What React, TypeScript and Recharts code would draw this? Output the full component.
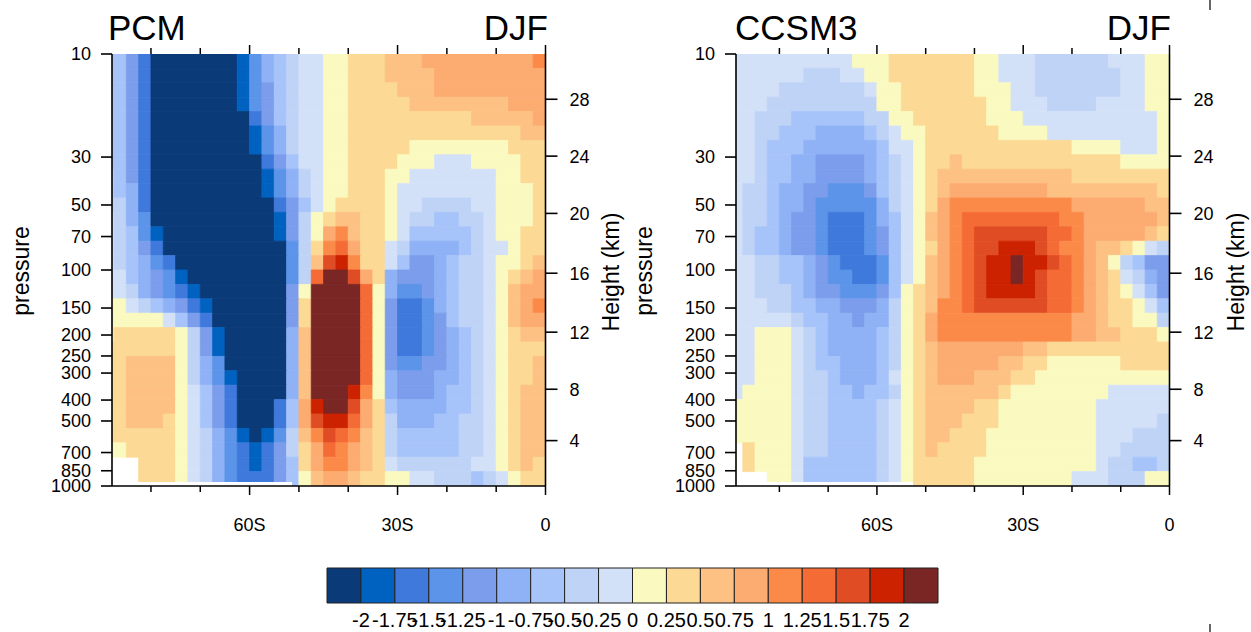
import React from 'react'
import { ComposedChart, BarChart, Bar, Scatter, XAxis, YAxis, ReferenceArea } from 'recharts'

// contour levels of the shaded field and the colour of every band between them
const LEVELS = [-2, -1.75, -1.5, -1.25, -1, -0.75, -0.5, -0.25, 0, 0.25, 0.5, 0.75, 1, 1.25, 1.5, 1.75, 2]
const BAND_COLORS = [
  '#0a3a78', '#0062c0', '#3f79dc', '#5b94e8', '#7c9deb', '#8fb1f5', '#a7c4fa', '#bfd3f7', '#d3e1f8',
  '#fafac0', '#fcd994', '#fcc183', '#fcab71', '#fb8a49', '#f46b36', '#e04c24', '#cc2200', '#7a2624',
]

// the fields on a grid of 2.5 deg x 1/15 decade of pressure,
// one character per cell: '0'..'h' = band 0..17 (value = band centre), '.' = no data
const BAND_CODE = '0123456789abcdefgh'

const PRESSURE_TICKS = [1000, 850, 700, 500, 400, 300, 250, 200, 150, 100, 70, 50, 30, 10]
const HEIGHT_KM = [4, 8, 12, 16, 20, 24, 28]
const HEIGHT_P = [616.4, 356.5, 194.0, 103.5, 54.7, 29.7, 16.2]
const LAT_TICKS = [-80, -70, -60, -50, -40, -30, -20, -10, 0]
const LAT_LABELS: Record<string, string> = { '-60': '60S', '-30': '30S', '0': '0' }

const LAT_START = -90
const LAT_STEP = 2.5
const N_ROWS = 30
const SURFACE_TOP = 958

const PCM_LAT_MIN = -87.9
const PCM_MISSING_1000 = [-87.9, -51.4]
const PCM_ROWS = [
  '66420000000135678899aaabbbcccccccccd',
  '66420000000135678899aaabbbbccccccccc',
  '66420000000134678899aaaabbbccccccccc',
  '66420000000134678899aaaaabbbbbbbbccc',
  '66420000000024678899aaaaaaaaaabbbbbc',
  '66420000000013578899aaaaaaaaaaaaaabb',
  '66420000000013578899aaaaa99999999aaa',
  '66420000000002468899aaaa9998889999aa',
  '76420000000001357899aaa99888888899aa',
  '76520000000001357899aaa988888888999a',
  '7752000000000024689aaaa988777788999a',
  '875300000000001479abbaa987766778999a',
  '876310000000001479cdbaa98666667899aa',
  '87642000000000037adecaa87555567889aa',
  '87653200000000037bfgdaa86445677899ab',
  '88654310000000037ehhfca5444567789abc',
  '88754321000000049hhhhe95334567789bcc',
  '9987654210000004ahhhhe94223567789bcd',
  '9999986420000004ahhhhe94223467789bcc',
  '9aaaaa9741000005bhhhhe94223456789abb',
  'aaaaaa9741000005bhhhhe94223456789aaa',
  'aabbbb9753000005bhhhhe94334456789aab',
  'aabbbb9753100005bhhhhe95444556789aab',
  'aabbbb9864200005bhhhgd95444566789abb',
  'aabbbb9864200026cghhfca6555566789abb',
  'aabbba9864200026cfggeca7555667789abb',
  'aaaaaa9875310137bdfedba7666667789abb',
  '99aaaa9875321247acedcba7666667789abb',
  '...aaa9875321246acddcba8777777889aba',
  '...aaa98753222469bccbaa99887776789aa',
]

const CCSM3_LAT_MIN = -88.9
const CCSM3_MISSING_1000 = [-88.9, -52.6]
const CCSM3_ROWS = [
  '8888888888999aaaaaaa9988877777788899',
  '8888887778899aaaaaaa9988877777778899',
  '88887777777899aaaaaa9998877777778899',
  '88877777777799aaaaaaa998887777888899',
  '887776666667799aaaaaa999888888888889',
  '8877666555567899aaaaaa99998888888889',
  '8876665555556889aaaaaaaaaaaa99998889',
  '8876655444456789aabaaaaaaaaaaaaa9999',
  '8876655444456789abbbbbbbbbbbaaaaaaaa',
  '8776554433346789abccccccccbbbbbbbbba',
  '8776554333335789acddddddddddccccccbb',
  '8776544322235689bcdeeeeeeeeddccccccb',
  '8766544322234689bcdeffffffeedcccccba',
  '8766544322234689acdeffgggfeddcbba987',
  '8877665432223689bcdefgghggfedcb97644',
  '8877665433223689bcdefgghgfeedcba8754',
  '887776544333469abcdefggggfeedcba9864',
  '888776655444579abddeffffffeedcbaa986',
  '888887665545579acdddddddddddccbaa997',
  '889998765555679acdddddddddddccbbaaa9',
  '889998765555679abcccccccbbaaaaaaaaaa',
  '889998766555679abcccccbbaa999999aaaa',
  '889998776555689abcccbbbaa99999999999',
  '899998776656679abbbbbba9999999988888',
  '999998776666789abbbbaa99999999888888',
  '999998776666789abbbaaa99999999888887',
  '999998776666789abbaaa999999999888777',
  '.a9998776666789abaaaa999999999887777',
  '.a9998666666789aaaaa9999999999877667',
  '...998666666789aaaaa9999999988877799',
]

const FONT = '"Liberation Sans", Arial, Helvetica, sans-serif'
const LINE = { stroke: '#000', strokeWidth: 1.6 }

// panel layout: chart height, margins and bottom axis height give the plot height
const CHART_H = 540
const MARGIN_TOP = 54
const MARGIN_BOTTOM = 14
const X_AXIS_H = 40
const PLOT_H = CHART_H - MARGIN_TOP - MARGIN_BOTTOM - X_AXIS_H

const ROW_EDGES = Array.from({ length: N_ROWS + 1 }, (_, i) => Math.pow(10, 1 + (2 * i) / N_ROWS))

function bandColor(v: number) {
  return BAND_COLORS[LEVELS.filter((l) => l <= v).length]
}

function decode(ch: string) {
  return (BAND_CODE.indexOf(ch) - 9) * 0.25 + 0.125
}

function buildAreas(rows: string[], latMin: number) {
  const out: { key: string; x1: number; x2: number; y1: number; y2: number; fill: string }[] = []
  rows.forEach((row, i) => {
    let j = 0
    while (j < row.length) {
      let k = j
      while (k + 1 < row.length && row[k + 1] === row[j]) k++
      if (row[j] !== '.') {
        out.push({
          key: `${i}-${j}`,
          x1: Math.max(latMin, LAT_START + j * LAT_STEP),
          x2: LAT_START + (k + 1) * LAT_STEP,
          y1: ROW_EDGES[i],
          y2: ROW_EDGES[i + 1],
          fill: bandColor(decode(row[j])),
        })
      }
      j = k + 1
    }
  })
  return out
}

// latitude tick: outward mark under the bottom edge and over the top edge, label for 60S / 30S / 0
function LatTick(props: any) {
  const { x, y, payload } = props
  const label = LAT_LABELS[String(payload.value)]
  const len = label ? 9 : 6
  const top = y - PLOT_H
  return (
    <g>
      <line x1={x} x2={x} y1={y} y2={y + len} stroke="#000" strokeWidth={1.5} />
      <line x1={x} x2={x} y1={top} y2={top - len} stroke="#000" strokeWidth={1.5} />
      {label && (
        <text x={x} y={y + 45} textAnchor="middle" fontSize={18} fontFamily={FONT} fill="#000">
          {label}
        </text>
      )}
    </g>
  )
}

const NoMark = () => <g />

function Panel({ rows, latMin, missing, left, width, marginRight }: any) {
  const areas = buildAreas(rows, latMin)
  const frame = [
    { lat: latMin, p: 1000 },
    { lat: 0, p: 10 },
  ]
  const tickStyle = { fontSize: 18, fontFamily: FONT, fill: '#000' }
  return (
    <div style={{ position: 'absolute', left, top: 0 }}>
      <ComposedChart
        width={width}
        height={CHART_H}
        data={frame}
        margin={{ top: MARGIN_TOP, right: marginRight, bottom: MARGIN_BOTTOM, left: 52 }}
      >
        <Scatter xAxisId="x" yAxisId="p" data={frame} dataKey="p" shape={NoMark} isAnimationActive={false} />
        {areas.map((a) => (
          <ReferenceArea
            key={a.key}
            xAxisId="x"
            yAxisId="p"
            x1={a.x1}
            x2={a.x2}
            y1={a.y1}
            y2={a.y2}
            fill={a.fill}
            fillOpacity={1}
            stroke={a.fill}
            strokeWidth={0.8}
            ifOverflow="hidden"
          />
        ))}
        <ReferenceArea
          xAxisId="x"
          yAxisId="p"
          x1={missing[0]}
          x2={missing[1]}
          y1={SURFACE_TOP}
          y2={1000}
          fill="#fff"
          fillOpacity={1}
          stroke="none"
          ifOverflow="hidden"
        />
        {/* top frame line along the 10 hPa edge */}
        <ReferenceArea
          xAxisId="x"
          yAxisId="p"
          x1={latMin}
          x2={0}
          y1={10}
          y2={10}
          fill="none"
          stroke="#000"
          strokeWidth={1.6}
          ifOverflow="visible"
        />
        <XAxis
          xAxisId="x"
          dataKey="lat"
          type="number"
          domain={[latMin, 0]}
          allowDataOverflow
          ticks={LAT_TICKS}
          interval={0}
          height={X_AXIS_H}
          tickSize={0}
          tickMargin={0}
          tickLine={false}
          tick={LatTick}
          axisLine={LINE}
        />
        <YAxis
          yAxisId="p"
          dataKey="p"
          type="number"
          scale="log"
          domain={[10, 1000]}
          reversed
          allowDataOverflow
          ticks={PRESSURE_TICKS}
          interval={0}
          width={60}
          tickSize={11}
          tickMargin={10}
          tick={tickStyle}
          tickLine={LINE}
          axisLine={LINE}
        />
        <YAxis
          yAxisId="h"
          dataKey="p"
          orientation="right"
          type="number"
          scale="log"
          domain={[10, 1000]}
          reversed
          allowDataOverflow
          ticks={HEIGHT_P}
          interval={0}
          tickFormatter={(p: number) => String(HEIGHT_KM[HEIGHT_P.indexOf(p)])}
          width={50}
          tickSize={12}
          tickMargin={12}
          tick={tickStyle}
          tickLine={LINE}
          axisLine={LINE}
        />
      </ComposedChart>
    </div>
  )
}

const COLORBAR_ROW: Record<string, any> = { name: 'bar' }
BAND_COLORS.forEach((_, i) => {
  COLORBAR_ROW[`b${i}`] = 1
})
const COLORBAR_TICKS = LEVELS.map((_, i) => i + 1)

function ColorBar() {
  return (
    <div style={{ position: 'absolute', left: 300, top: 560 }}>
      <BarChart
        width={680}
        height={80}
        layout="vertical"
        data={[COLORBAR_ROW]}
        barCategoryGap={0}
        margin={{ top: 8, right: 42, bottom: 7, left: 27 }}
      >
        <XAxis
          type="number"
          domain={[0, BAND_COLORS.length]}
          ticks={COLORBAR_TICKS}
          interval={0}
          tickFormatter={(i: number) => String(LEVELS[i - 1])}
          axisLine={false}
          tickLine={false}
          tickSize={0}
          tickMargin={10}
          height={30}
          tick={{ fontSize: 20, fontFamily: FONT, fill: '#000' }}
        />
        <YAxis type="category" dataKey="name" hide />
        {BAND_COLORS.map((c, i) => (
          <Bar
            key={i}
            dataKey={`b${i}`}
            stackId="cb"
            fill={c}
            stroke="#222"
            strokeWidth={1}
            isAnimationActive={false}
          />
        ))}
      </BarChart>
    </div>
  )
}

export default function App() {
  const label = { fontFamily: FONT, fill: '#000' }
  return (
    <div style={{ position: 'absolute', left: 0, top: 0, width: 1251, height: 632, overflow: 'hidden', background: '#fff' }}>
      <Panel rows={PCM_ROWS} latMin={PCM_LAT_MIN} missing={PCM_MISSING_1000} left={0} width={640} marginRight={44.5} />
      <Panel rows={CCSM3_ROWS} latMin={CCSM3_LAT_MIN} missing={CCSM3_MISSING_1000} left={624} width={627} marginRight={31.5} />
      <ColorBar />
      <svg width={1251} height={632} style={{ position: 'absolute', left: 0, top: 0, pointerEvents: 'none' }}>
        <text x={108} y={40} fontSize={35} {...label}>PCM</text>
        <text x={548} y={40} fontSize={35} textAnchor="end" {...label}>DJF</text>
        <text x={735} y={40} fontSize={35} {...label}>CCSM3</text>
        <text x={1171} y={40} fontSize={35} textAnchor="end" {...label}>DJF</text>
        <text transform="translate(29,271) rotate(-90)" fontSize={23} textAnchor="middle" {...label}>pressure</text>
        <text transform="translate(619,272) rotate(-90)" fontSize={23} textAnchor="middle" {...label}>Height (km)</text>
        <text transform="translate(652,271) rotate(-90)" fontSize={23} textAnchor="middle" {...label}>pressure</text>
        <text transform="translate(1244,272) rotate(-90)" fontSize={23} textAnchor="middle" {...label}>Height (km)</text>
        <line x1={1210} x2={1210} y1={0} y2={10} stroke="#000" strokeWidth={1.2} />
        <line x1={1210} x2={1210} y1={624} y2={632} stroke="#000" strokeWidth={1.2} />
      </svg>
    </div>
  )
}
